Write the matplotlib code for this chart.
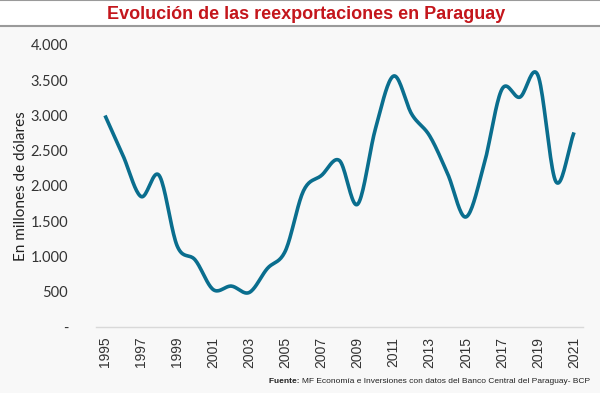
import numpy as np
import matplotlib.pyplot as plt

##### Data #####
years = list(range(1995, 2022))
reexports = [3000, 2430, 1850, 2150, 1150, 950, 530, 580, 490, 830,
             1080, 1930, 2150, 2360, 1740, 2820, 3560, 3020, 2710, 2170,
             1560, 2290, 3370, 3260, 3570, 2060, 2760]
yticks = [0, 500, 1000, 1500, 2000, 2500, 3000, 3500, 4000]
ytick_labels = ['-', '500', '1.000', '1.500', '2.000', '2.500', '3.000', '3.500', '4.000']
xticks = years[::2]

title = 'Evolución de las reexportaciones en Paraguay'
ylabel = 'En millones de dólares'
source = 'MF Economía e Inversiones con datos del Banco Central del Paraguay- BCP'

BG = '#f8f8f8'
LINE = '#0a6e8e'
RED = '#c4161c'


def smooth(x, y, steps=20):
    # Catmull-Rom smoothing, like Excel's "smoothed line" option
    x = np.asarray(x, float)
    y = np.asarray(y, float)
    px = np.concatenate([[2 * x[0] - x[1]], x, [2 * x[-1] - x[-2]]])
    py = np.concatenate([[2 * y[0] - y[1]], y, [2 * y[-1] - y[-2]]])
    t = np.linspace(0, 1, steps, endpoint=False)
    xs, ys = [], []
    for i in range(1, len(px) - 2):
        for p, out in ((px, xs), (py, ys)):
            p0, p1, p2, p3 = p[i - 1], p[i], p[i + 1], p[i + 2]
            out.extend(0.5 * (2 * p1 + (-p0 + p2) * t
                              + (2 * p0 - 5 * p1 + 4 * p2 - p3) * t ** 2
                              + (-p0 + 3 * p1 - 3 * p2 + p3) * t ** 3))
    xs.append(x[-1])
    ys.append(y[-1])
    return np.array(xs), np.array(ys)


fig = plt.figure(figsize=(6, 3.93), dpi=100, facecolor=BG)

# title band
band = fig.add_axes([0, 0.935, 1, 0.065])
band.set_facecolor('white')
band.set_xticks([])
band.set_yticks([])
for s in ['left', 'right']:
    band.spines[s].set_visible(False)
for s in ['top', 'bottom']:
    band.spines[s].set_color('#9a9a9a')
    band.spines[s].set_linewidth(1.5)
band.text(0.51, 0.45, title, ha='center', va='center', color=RED,
          fontsize=13, fontweight='bold', family='Liberation Sans',
          transform=band.transAxes)

ax = fig.add_axes([0.16, 0.168, 0.8117, 0.7175])
ax.set_facecolor(BG)
sx, sy = smooth(years, reexports)
ax.plot(sx, sy, color=LINE, linewidth=2.6, solid_capstyle='butt')

ax.set_xlim(1994.5, 2021.5)
ax.set_ylim(0, 4000)
ax.set_yticks(yticks)
ax.set_yticklabels(ytick_labels, fontsize=10.5, family='Lato', color='#333333')
ax.set_xticks(xticks)
ax.set_xticklabels([str(y) for y in xticks], rotation=90, fontsize=10,
                   family='Liberation Sans', color='#333333')
ax.tick_params(length=0)
ax.tick_params(axis='y', pad=20)
ax.tick_params(axis='x', pad=7)
for s in ['top', 'right', 'left']:
    ax.spines[s].set_visible(False)
ax.spines['bottom'].set_color('#d9d9d9')
ax.spines['bottom'].set_linewidth(1)
ax.set_ylabel(ylabel, fontsize=11, family='Lato', color='#222222', labelpad=2)

src = fig.text(0.983, 0.028, source, ha='right', va='center', fontsize=6,
               family='Liberation Sans', color='#222222')
ax.annotate('Fuente: ', xy=(0, 0.5), xycoords=src, ha='right', va='center',
            fontsize=6, family='Liberation Sans', fontweight='bold',
            color='#222222', annotation_clip=False)

fig.savefig('out.png', dpi=100, facecolor=BG)
